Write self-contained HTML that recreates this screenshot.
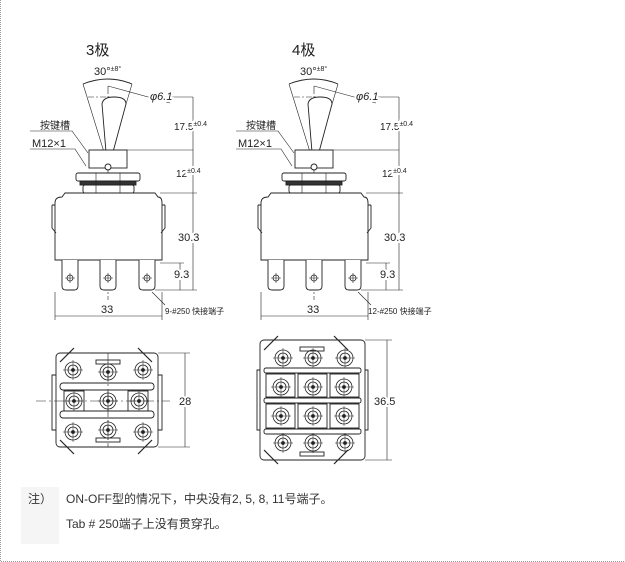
<!DOCTYPE html>
<html><head><meta charset="utf-8"><style>
html,body{margin:0;padding:0;background:#fff;}
body{width:625px;height:562px;position:relative;overflow:hidden;font-family:"Liberation Sans","Noto Sans CJK SC",sans-serif;}
svg{position:absolute;left:0;top:0;}
.n{position:absolute;font-size:12px;color:#333;}
.lb{paint-order:stroke;stroke:#fff;stroke-width:4px;}
</style></head><body>
<svg width="625" height="562" viewBox="0 0 625 562" font-family="Liberation Sans, Noto Sans CJK SC, sans-serif">
<defs>
<g id="term">
  <path d="M-8,0 L-8,26 Q-8,30 -4,30 L4,30 Q8,30 8,26 L8,0" fill="#fff" stroke="#222" stroke-width="0.9"/>
  <circle cx="0" cy="18" r="3" fill="none" stroke="#222" stroke-width="0.8"/>
  <path d="M-5,18 H5 M0,13 V23" stroke="#222" stroke-width="0.6"/>
</g>
<g id="side" stroke="#222" fill="none" stroke-width="0.9">
  <path d="M83,84 Q108,74 132,84" />
  <path d="M108,165 L83,84 M108,165 L132,84" stroke-width="0.6"/>
  <path d="M108,86 V300" stroke-dasharray="8,2,2,2" stroke-width="0.6"/>
  <path d="M88,97 H112" stroke-dasharray="6,2,2,2" stroke-width="0.6"/>
  <path d="M102,104 Q103,97 114,97 Q126,97 126,104 L113,152 L106,152 Z" fill="#fff"/>
  <path d="M108,86 L170,103 M170,97 H193" stroke-width="0.6"/>
  <rect x="89" y="150" width="38" height="18" fill="#fff"/>
  <circle cx="108" cy="167" r="3" fill="#fff"/>
  <path d="M90,150 H193" stroke-width="0.6"/>
  <rect x="76" y="173" width="64" height="8" rx="2" fill="#fff"/>
  <rect x="80" y="181" width="56" height="4" fill="#333"/>
  <rect x="83" y="185" width="51" height="8" rx="2" fill="#fff"/>
  <path d="M96,173 V193 M120,173 V193" stroke-width="0.6"/>
  <path d="M55,260 L55,203 Q55,197 62,197 L65,193 L155,193 L158,197 Q162,197 162,203 L162,260 Z" fill="#fff"/>
  <path d="M52,205 V228 L56,233 M165,205 V228 L161,233 M52,205 H55 M162,205 H165"/>
  <path d="M55,260 H162" />
  <path d="M160,193 H197 M155,290 H197 M160,263 H184" stroke-width="0.6"/>
  <path d="M193,97 V290 M180,263 V290" stroke-width="0.6"/>
  <path d="M55,292 V320 M162,292 V320 M55,316 H162" stroke-width="0.6"/>
  <path d="M152,292 L165,305" stroke-width="0.6"/>
  <path d="M30,131 H72 L88,153 M30,149 H75 L86,166" stroke-width="0.6"/>
</g>
<g id="pos" stroke="#222" fill="none" stroke-width="0.8">
  <circle r="8"/><circle r="5"/><circle r="1.5" fill="#222"/>
  <path d="M-10,0 H10 M0,-10 V10" stroke-width="0.5"/>
</g>
<g id="labels" fill="#222">
<text x="94" y="75" font-size="11">30°<tspan font-size="7" dy="-4">±8°</tspan></text>
<text class="lb" x="150" y="100" font-size="11" font-style="italic">φ6.1</text>
<text class="lb" x="174" y="130" font-size="10">17.5<tspan font-size="7" dy="-4">±0.4</tspan></text>
<text class="lb" x="176" y="177" font-size="10">12<tspan font-size="7" dy="-4">±0.4</tspan></text>
<text class="lb" x="178" y="241" font-size="11">30.3</text>
<text class="lb" x="174" y="278" font-size="11">9.3</text>
<text class="lb" x="101" y="313" font-size="11">33</text>
<text x="40" y="129" font-size="10">按键槽</text>
<text x="32" y="147" font-size="11">M12×1</text>
</g>
</defs>

<use href="#side"/>
<use href="#term" x="70" y="260"/><use href="#term" x="108" y="260"/><use href="#term" x="147" y="260"/>
<use href="#labels"/>
<text x="86" y="55" font-size="15" fill="#222">3极</text>
<text x="165" y="314" font-size="8" fill="#222">9-#250 快接端子</text>

<g transform="translate(206,0)">
<use href="#side"/>
<use href="#term" x="70" y="260"/><use href="#term" x="108" y="260"/><use href="#term" x="147" y="260"/>
<use href="#labels"/>
<text x="86" y="55" font-size="15" fill="#222">4极</text>
<text x="162" y="314" font-size="8" fill="#222">12-#250 快接端子</text>
</g>

<g stroke="#222" fill="none" stroke-width="0.9">
  <rect x="56" y="353" width="102" height="94" rx="4" fill="#fff"/>
  <path d="M56,375 H52 V430 H56 M158,375 H162 V430 H158"/>
  <rect x="60" y="383" width="94" height="7" rx="3"/>
  <rect x="60" y="411" width="94" height="7" rx="3"/>
  <rect x="64" y="391" width="20" height="20"/>
  <rect x="128" y="391" width="20" height="20"/>
  <path d="M36,401 H170" stroke-dasharray="10,3,2,3" stroke-width="0.6"/>
  <path d="M108,353 V447" stroke-dasharray="10,3,2,3" stroke-width="0.6"/>
  <path d="M158,353 H190 M158,447 H190 M185,353 V447" stroke-width="0.6"/>
  <path d="M60,362 L74,348 M138,348 L152,362 M60,440 L74,454 M138,454 L152,440" stroke-width="1.2"/>
  <rect x="96" y="360" width="24" height="4"/><rect x="96" y="438" width="24" height="4"/>
</g>
<use href="#pos" x="73" y="370"/><use href="#pos" x="108" y="372"/><use href="#pos" x="143" y="370"/>
<use href="#pos" x="74" y="401"/><use href="#pos" x="108" y="401"/><use href="#pos" x="139" y="401"/>
<use href="#pos" x="73" y="432"/><use href="#pos" x="108" y="430"/><use href="#pos" x="143" y="432"/>
<text class="lb" x="179" y="405" font-size="11" fill="#222">28</text>

<g stroke="#222" fill="none" stroke-width="0.9">
  <rect x="260" y="340" width="105" height="120" rx="4" fill="#fff"/>
  <path d="M260,370 H257 V430 H260 M365,370 H368 V430 H365"/>
  <rect x="264" y="368" width="97" height="5" rx="2"/>
  <rect x="264" y="398" width="97" height="5" rx="2"/>
  <rect x="264" y="429" width="97" height="5" rx="2"/>
  <rect x="266" y="374" width="29" height="23"/><rect x="298" y="374" width="29" height="23"/><rect x="330" y="374" width="29" height="23"/>
  <rect x="266" y="404" width="29" height="24"/><rect x="298" y="404" width="29" height="24"/><rect x="330" y="404" width="29" height="24"/>
  <path d="M365,340 H392 M365,460 H392 M387,340 V460" stroke-width="0.6"/>
  <path d="M264,350 L278,336 M334,336 L348,350 M264,450 L278,464 M334,464 L348,450" stroke-width="1.2"/>
  <rect x="300" y="347" width="24" height="4"/><rect x="300" y="452" width="24" height="4"/>
</g>
<use href="#pos" x="283" y="358"/><use href="#pos" x="313" y="358"/><use href="#pos" x="345" y="358"/>
<use href="#pos" x="281" y="387"/><use href="#pos" x="313" y="387"/><use href="#pos" x="344" y="387"/>
<use href="#pos" x="281" y="416"/><use href="#pos" x="313" y="416"/><use href="#pos" x="344" y="416"/>
<use href="#pos" x="283" y="443"/><use href="#pos" x="313" y="443"/><use href="#pos" x="345" y="443"/>
<text class="lb" x="374" y="405" font-size="11" fill="#222">36.5</text>

<rect x="21" y="487" width="38" height="57" fill="#f5f5f5"/>
<path d="M0.5,0 V561.5 H625" stroke="#999" stroke-dasharray="1,1" fill="none"/>
</svg>
<div class="n" style="left:28px;top:490px;">注）</div>
<div class="n" style="left:66px;top:490px;">ON-OFF型的情况下，中央没有2, 5, 8, 11号端子。</div>
<div class="n" style="left:66px;top:515px;">Tab # 250端子上没有贯穿孔。</div>
</body></html>
